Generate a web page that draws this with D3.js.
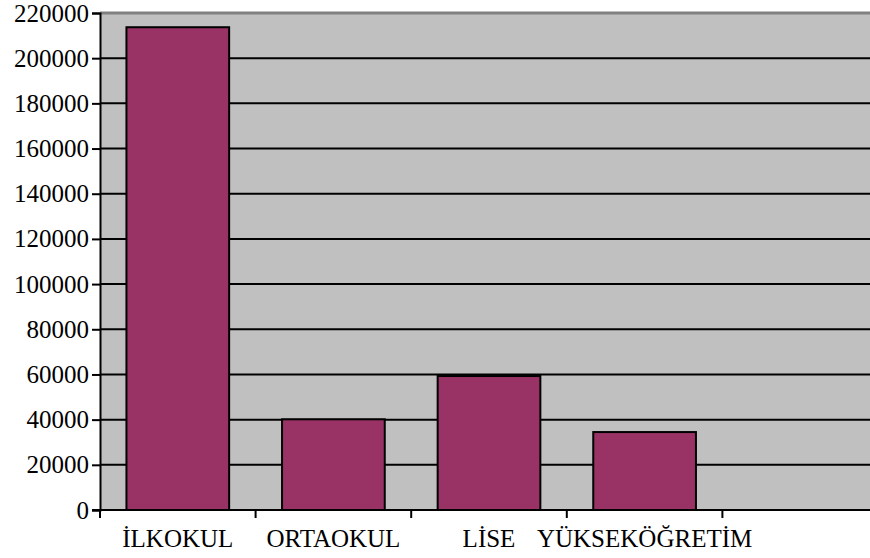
<!DOCTYPE html>
<html>
<head>
<meta charset="utf-8">
<script src="https://cdn.jsdelivr.net/npm/d3@7"></script>
<style>
  body { margin: 0; background: #fff; }
</style>
</head>
<body>
<svg id="chart" width="870" height="558"></svg>
<script>
// data
const categories = ['İLKOKUL', 'ORTAOKUL', 'LİSE', 'YÜKSEKÖĞRETİM', ''];
const values = [213700, 40150, 59300, 34500, null];
const yTicks = [0, 20000, 40000, 60000, 80000, 100000, 120000, 140000, 160000, 180000, 200000, 220000];

const margin = {top: 13, right: 0, bottom: 48, left: 100};
const width = 778;   // plot runs past the right edge, like the original
const height = 497;

const svg = d3.select('#chart');

const g = svg.append('g')
    .attr('transform', 'translate(' + margin.left + ',' + margin.top + ')');

const xScale = d3.scaleBand()
    .domain(categories.map((c, i) => i))
    .range([0, width])
    .paddingInner(0.34)
    .paddingOuter(0.17);

const yScale = d3.scaleLinear()
    .domain([0, 220000])
    .range([height, 0]);

// plot background
g.append('rect')
    .attr('x', 0).attr('y', 0)
    .attr('width', width).attr('height', height)
    .attr('fill', '#c0c0c0');

// top border
g.append('line')
    .attr('x1', 0).attr('x2', width)
    .attr('y1', 0).attr('y2', 0)
    .attr('stroke', '#808080').attr('stroke-width', 3);

// gridlines
g.selectAll('.grid')
    .data(yTicks.filter(d => d > 0 && d < 220000))
    .enter().append('line')
    .attr('class', 'grid')
    .attr('x1', 0).attr('x2', width)
    .attr('y1', d => yScale(d)).attr('y2', d => yScale(d))
    .attr('stroke', '#000').attr('stroke-width', 2);

// bars
g.selectAll('.bar')
    .data(values.map((v, i) => ({i, v})).filter(d => d.v != null))
    .enter().append('rect')
    .attr('class', 'bar')
    .attr('x', d => xScale(d.i))
    .attr('y', d => yScale(d.v))
    .attr('width', xScale.bandwidth())
    .attr('height', d => height - yScale(d.v))
    .attr('fill', '#993366')
    .attr('stroke', '#000')
    .attr('stroke-width', 2);

// y axis (ticks + domain from d3, labels drawn as plain text)
const yAxis = d3.axisLeft(yScale)
    .tickValues(yTicks)
    .tickFormat('')
    .tickSize(8);

const yAxisGroup = g.append('g')
    .attr('class', 'axis y-axis')
    .call(yAxis);
yAxisGroup.select('.domain').attr('stroke', '#000').attr('stroke-width', 2);
yAxisGroup.selectAll('.tick line').attr('stroke', '#000').attr('stroke-width', 2);

g.selectAll('.ylabel')
    .data(yTicks)
    .enter().append('text')
    .attr('class', 'ylabel')
    .attr('x', -11)
    .attr('y', d => yScale(d))
    .attr('dy', '0.34em')
    .attr('text-anchor', 'end')
    .attr('fill', '#000')
    .attr('font-family', 'Liberation Serif')
    .attr('font-size', 25)
    .style('font-family', 'Liberation Serif')
    .text(d => d3.format('d')(d));

// x axis: ticks at band boundaries
const xEdges = d3.range(0, categories.length).map(i => i * width / categories.length);

const xAxisGroup = g.append('g')
    .attr('class', 'axis x-axis')
    .attr('transform', 'translate(0,' + height + ')');

xAxisGroup.append('line')
    .attr('x1', -8).attr('x2', width)
    .attr('stroke', '#000').attr('stroke-width', 2);

xAxisGroup.selectAll('.xtick')
    .data(xEdges)
    .enter().append('line')
    .attr('class', 'xtick')
    .attr('x1', d => d).attr('x2', d => d)
    .attr('y1', 0).attr('y2', 8)
    .attr('stroke', '#000').attr('stroke-width', 2);

xAxisGroup.selectAll('.xlabel')
    .data(categories)
    .enter().append('text')
    .attr('class', 'xlabel')
    .attr('x', (d, i) => xScale(i) + xScale.bandwidth() / 2)
    .attr('y', 37)
    .attr('text-anchor', 'middle')
    .attr('fill', '#000')
    .attr('font-family', 'Liberation Serif')
    .attr('font-size', 25)
    .style('font-family', 'Liberation Serif')
    .text(d => d);
</script>
</body>
</html>
